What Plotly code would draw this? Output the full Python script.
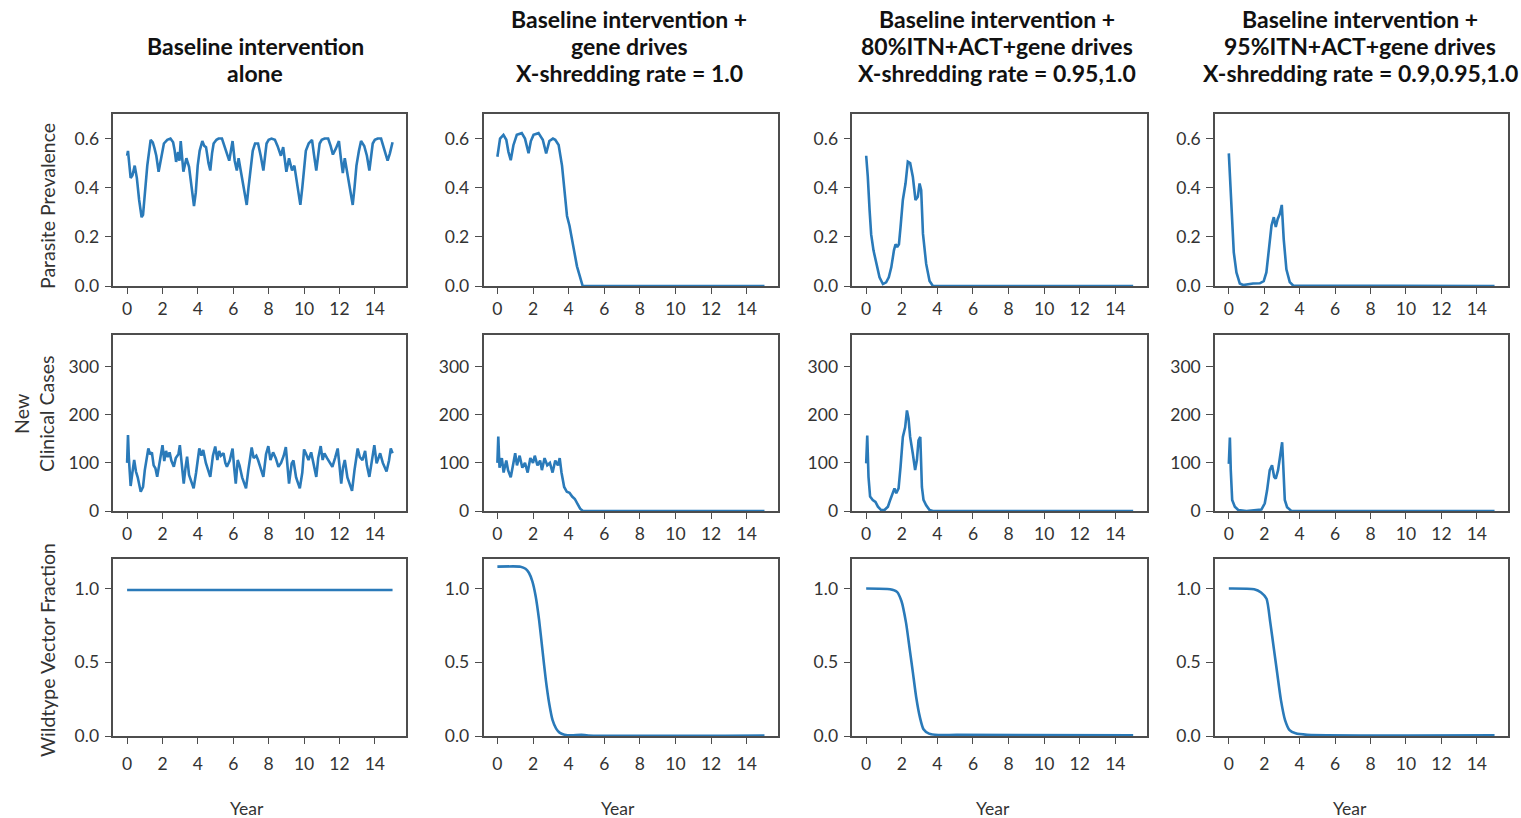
import plotly.graph_objects as go

# ---------------- data ----------------
col_titles = [
    ["Baseline intervention", "alone"],
    ["Baseline intervention +", "gene drives", "X-shredding rate = 1.0"],
    ["Baseline intervention +", "80%ITN+ACT+gene drives", "X-shredding rate = 0.95,1.0"],
    ["Baseline intervention +", "95%ITN+ACT+gene drives", "X-shredding rate = 0.9,0.95,1.0"],
]
row_titles = ["Parasite Prevalence", "New<br>Clinical Cases", "Wildtype Vector Fraction"]
x_title = "Year"
x_ticks = [0, 2, 4, 6, 8, 10, 12, 14]
y_ticks_prev = [0.0, 0.2, 0.4, 0.6]
y_ticks_cases = [0, 100, 200, 300]
y_ticks_wt = [0.0, 0.5, 1.0]

# Row 1: parasite prevalence
prev_x_c1 = [0, 0.05, 0.2, 0.3, 0.43, 0.55, 0.68, 0.82, 0.9, 1.0, 1.14, 1.33, 1.45, 1.55, 1.65, 1.78, 1.92,
             2.08, 2.27, 2.45, 2.6, 2.68, 2.77, 2.88, 2.96, 3.03, 3.18, 3.35, 3.5, 3.62, 3.78, 3.88, 3.99,
             4.1, 4.25, 4.36, 4.46, 4.6, 4.7, 4.8, 4.89, 5.05, 5.17, 5.36, 5.5, 5.64, 5.77, 5.96, 6.08,
             6.2, 6.3, 6.42, 6.6, 6.76, 6.86, 6.98, 7.1, 7.23, 7.4, 7.55, 7.7, 7.88, 8.0, 8.16, 8.35,
             8.5, 8.69, 8.82, 9.0, 9.15, 9.32, 9.45, 9.6, 9.79, 9.9, 10.0, 10.1, 10.26, 10.45, 10.55,
             10.69, 10.88, 11.0, 11.16, 11.36, 11.5, 11.63, 11.8, 11.97, 12.08, 12.19, 12.3, 12.42,
             12.6, 12.75, 12.85, 12.96, 13.1, 13.22, 13.4, 13.55, 13.69, 13.88, 14.0, 14.16, 14.35,
             14.55, 14.72, 14.85, 15.0]
prev_c1 = [0.53, 0.55, 0.44, 0.45, 0.49, 0.44, 0.35, 0.28, 0.29, 0.38, 0.49, 0.595, 0.585, 0.56, 0.53, 0.465, 0.52,
           0.58, 0.595, 0.60, 0.585, 0.555, 0.505, 0.545, 0.51, 0.59, 0.465, 0.52, 0.485, 0.42, 0.325, 0.38, 0.49,
           0.55, 0.59, 0.57, 0.565, 0.50, 0.47, 0.54, 0.58, 0.595, 0.60, 0.60, 0.57, 0.535, 0.51, 0.59, 0.51,
           0.47, 0.52, 0.47, 0.40, 0.33, 0.40, 0.49, 0.55, 0.58, 0.58, 0.53, 0.47, 0.58, 0.595, 0.60, 0.595,
           0.57, 0.53, 0.565, 0.465, 0.52, 0.47, 0.49, 0.41, 0.33, 0.40, 0.49, 0.55, 0.58, 0.595, 0.54,
           0.47, 0.58, 0.595, 0.60, 0.60, 0.57, 0.535, 0.56, 0.59, 0.52, 0.46, 0.52, 0.465,
           0.40, 0.33, 0.40, 0.49, 0.55, 0.59, 0.57, 0.53, 0.47, 0.58, 0.595, 0.60, 0.60,
           0.55, 0.51, 0.54, 0.585]

prev_x_c2 = [0, 0.15, 0.34, 0.5, 0.62, 0.75, 0.9, 1.09, 1.37, 1.55, 1.75, 1.88, 2.03, 2.31, 2.55, 2.74,
             2.92, 3.12, 3.25, 3.44, 3.63, 3.76, 3.91, 4.05, 4.19, 4.32, 4.47, 4.79, 15.0]
prev_c2 = [0.526, 0.60, 0.615, 0.595, 0.546, 0.512, 0.573, 0.615, 0.622, 0.60, 0.54, 0.59, 0.615, 0.622, 0.595, 0.54,
           0.59, 0.60, 0.595, 0.574, 0.49, 0.38, 0.285, 0.245, 0.19, 0.148, 0.08, 0.0, 0.0]

prev_x_c3 = [0, 0.09, 0.19, 0.28, 0.41, 0.56, 0.75, 0.94, 1.12, 1.27, 1.41, 1.56, 1.65, 1.74, 1.84, 1.93,
             2.06, 2.21, 2.34, 2.47, 2.62, 2.77, 2.9, 3.0, 3.09, 3.19, 3.37, 3.56, 3.75, 15.0]
prev_c3 = [0.53, 0.445, 0.31, 0.21, 0.145, 0.09, 0.035, 0.008, 0.015, 0.035, 0.076, 0.145, 0.17, 0.158, 0.17, 0.24,
           0.35, 0.417, 0.506, 0.50, 0.445, 0.35, 0.363, 0.417, 0.39, 0.213, 0.09, 0.02, 0.0, 0.0]

prev_x_c4 = [0, 0.09, 0.19, 0.28, 0.43, 0.62, 0.81, 1.37, 1.75, 1.97, 2.12, 2.27, 2.41, 2.54, 2.65, 2.76,
             2.88, 2.99, 3.1, 3.25, 3.44, 3.63, 15.0]
prev_c4 = [0.54, 0.42, 0.246, 0.137, 0.055, 0.01, 0.004, 0.01, 0.011, 0.02, 0.055, 0.15, 0.246, 0.28, 0.24, 0.273,
           0.294, 0.33, 0.19, 0.068, 0.016, 0.002, 0.0]

# Row 2: new clinical cases
cases_x_c1 = [0.0, 0.05, 0.1, 0.2, 0.3, 0.4, 0.5, 0.6, 0.77, 0.9, 1.0, 1.1, 1.2, 1.3, 1.4, 1.5, 1.6, 1.7, 1.8,
              1.95, 2.0, 2.1, 2.2, 2.3, 2.4, 2.5, 2.64, 2.75, 2.9, 2.98, 3.05, 3.2, 3.3, 3.39, 3.5, 3.6, 3.76,
              3.9, 4.08, 4.2, 4.3, 4.45, 4.55, 4.7, 4.85, 4.98, 5.1, 5.2, 5.3, 5.45, 5.55, 5.64, 5.8, 5.96,
              6.05, 6.14, 6.25, 6.35, 6.5, 6.72, 6.85, 7.04, 7.15, 7.3, 7.4, 7.55, 7.7, 7.85, 7.98, 8.1,
              8.25, 8.4, 8.55, 8.7, 8.85, 8.97, 9.05, 9.15, 9.3, 9.4, 9.55, 9.76, 9.9, 10.0, 10.1, 10.25,
              10.4, 10.55, 10.69, 10.8, 10.94, 11.05, 11.15, 11.3, 11.45, 11.6, 11.75, 11.9, 12.0, 12.1,
              12.2, 12.3, 12.45, 12.71, 12.85, 13.03, 13.15, 13.3, 13.45, 13.55, 13.69, 13.85, 13.97,
              14.1, 14.2, 14.3, 14.45, 14.66, 14.8, 14.9, 15.0]
cases_c1 = [100, 158, 110, 52, 80, 106, 82, 70, 40, 50, 85, 106, 130, 118, 122, 95, 89, 71, 95,
            122, 137, 104, 125, 112, 122, 105, 92, 110, 118, 137, 106, 57, 90, 113, 75, 64, 47,
            80, 130, 115, 127, 100, 90, 71, 115, 134, 106, 125, 115, 120, 100, 92, 105, 130,
            90, 57, 106, 95, 70, 47, 85, 132, 110, 115, 106, 90, 71, 118, 135, 106,
            122, 110, 92, 100, 115, 133, 90, 57, 99, 105, 70, 47, 80, 128, 120, 106,
            122, 95, 71, 110, 135, 106, 120, 110, 100, 92, 110, 130, 95, 57,
            90, 106, 70, 42, 85, 130, 112, 106, 125, 95, 71, 115, 137,
            99, 110, 120, 100, 82, 105, 130, 120]

cases_x_c2 = [0, 0.05, 0.12, 0.25, 0.35, 0.5, 0.6, 0.75, 0.9, 1.0, 1.1, 1.25, 1.4, 1.55, 1.7, 1.85, 2.0, 2.1,
              2.25, 2.4, 2.5, 2.65, 2.8, 2.95, 3.1, 3.25, 3.4, 3.5, 3.6, 3.75, 3.9, 4.05, 4.2, 4.35, 4.5,
              4.65, 4.8, 15.0]
cases_c2 = [100, 155, 90, 110, 80, 105, 85, 70, 100, 120, 95, 115, 90, 100, 80, 110, 100, 115,
            95, 105, 85, 110, 95, 100, 80, 105, 95, 110, 80, 50, 40, 38, 30, 25, 15,
            5, 0, 0]

cases_x_c3 = [0, 0.06, 0.13, 0.22, 0.37, 0.52, 0.66, 0.84, 1.03, 1.22, 1.35, 1.5, 1.59, 1.69, 1.82, 1.93,
              2.06, 2.19, 2.29, 2.38, 2.47, 2.62, 2.75, 2.85, 2.94, 3.04, 3.13, 3.22, 3.37, 3.56, 3.75, 15.0]
cases_c3 = [99, 157, 71, 30, 23, 19, 9, 2, 2, 9, 23, 40, 47, 37, 47, 92,
            154, 174, 209, 192, 154, 119, 85, 106, 147, 154, 50, 23, 12, 2, 0, 0]

cases_x_c4 = [0, 0.06, 0.11, 0.19, 0.34, 0.53, 1.0, 1.56, 1.84, 2.03, 2.16, 2.31, 2.44, 2.56, 2.65, 2.78,
              2.91, 3.01, 3.06, 3.16, 3.29, 3.53, 15.0]
cases_c4 = [98, 153, 85, 23, 9, 2, 0, 2, 3, 16, 43, 85, 95, 71, 67, 85,
            119, 143, 105, 23, 8, 0, 0]

# Row 3: wildtype vector fraction
wt_x_c1 = [0, 15.0]
wt_c1 = [0.99, 0.99]

wt_x_c2 = [0, 1.3, 1.58, 1.77, 1.96, 2.15, 2.34, 2.53, 2.72, 2.91, 3.1, 3.3, 3.49, 3.77, 4.15, 4.72, 5.1, 15.0]
wt_c2 = [1.148, 1.148, 1.134, 1.107, 1.05, 0.948, 0.789, 0.584, 0.38, 0.22, 0.107, 0.05, 0.023, 0.009, 0.004,
         0.008, 0.003, 0.003]

wt_x_c3 = [0, 1.34, 1.73, 1.98, 2.24, 2.45, 2.63, 2.81, 3.02, 3.22, 3.53, 4.05, 5.08, 15.0]
wt_c3 = [1.0, 0.995, 0.977, 0.915, 0.767, 0.584, 0.425, 0.263, 0.126, 0.046, 0.016, 0.007, 0.008, 0.004]

wt_x_c4 = [0, 1.43, 1.82, 2.13, 2.34, 2.55, 2.73, 2.94, 3.17, 3.43, 3.77, 4.42, 15.0]
wt_c4 = [1.0, 0.995, 0.973, 0.93, 0.77, 0.586, 0.427, 0.245, 0.11, 0.04, 0.018, 0.008, 0.004]

rows_data = [
    [(prev_x_c1, prev_c1), (prev_x_c2, prev_c2), (prev_x_c3, prev_c3), (prev_x_c4, prev_c4)],
    [(cases_x_c1, cases_c1), (cases_x_c2, cases_c2), (cases_x_c3, cases_c3), (cases_x_c4, cases_c4)],
    [(wt_x_c1, wt_c1), (wt_x_c2, wt_c2), (wt_x_c3, wt_c3), (wt_x_c4, wt_c4)],
]
row_yticks = [y_ticks_prev, y_ticks_cases, y_ticks_wt]

# ---------------- layout / styling ----------------
W = 1521
REF_H = 818          # reference picture height (positions below are in its pixels)
H = 828              # figure height (rendered slightly compressed vertically)
col_px = [(113.3, 406.0), (483.5, 778.0), (852.3, 1146.7), (1215.0, 1508.0)]
row_px = [(114.0, 286.0), (335.0, 511.0), (559.0, 736.0)]
row_standoff = [0, 0, 5]
y_ranges = [[0, 0.7], [0, 366], [0, 1.2]]
y_fmt = [".1f", "d", ".1f"]
x_range = [-0.78, 15.76]


def fx(px):
    return px / W


def fy(py):
    return 1 - py / REF_H


LINE = "#2a7ab9"
AX = "#4d4d4d"
TXT = "#333333"
FONT = "Lato"
TICK_SIZE = 17.5

fig = go.Figure()
layout = dict(
    width=W, height=H, autosize=False,
    margin=dict(l=0, r=0, t=0, b=0),
    paper_bgcolor="white", plot_bgcolor="white",
    showlegend=False,
    font=dict(family=FONT, color=TXT, size=17),
)

idx = 0
for r in range(3):
    for c in range(4):
        idx += 1
        xs, ys = rows_data[r][c]
        xa = "x" if idx == 1 else f"x{idx}"
        ya = "y" if idx == 1 else f"y{idx}"
        fig.add_trace(go.Scatter(
            x=xs, y=ys, mode="lines", xaxis=xa, yaxis=ya,
            line=dict(color=LINE, width=2.6, shape="spline" if r == 2 else "linear", smoothing=0.6),
            hoverinfo="x+y",
        ))
        x0, x1 = col_px[c]
        y0, y1 = row_px[r]
        kx = "xaxis" if idx == 1 else f"xaxis{idx}"
        ky = "yaxis" if idx == 1 else f"yaxis{idx}"
        layout[kx] = dict(
            domain=[fx(x0), fx(x1)], anchor=ya, range=x_range,
            tickmode="array", tickvals=x_ticks, ticks="outside", ticklen=6,
            tickcolor=AX, tickwidth=1.3, ticklabelstandoff=row_standoff[r],
            showline=True, linecolor=AX, linewidth=1.5, mirror=True,
            showgrid=False, zeroline=False,
            tickfont=dict(family=FONT, size=TICK_SIZE, color=TXT),
        )
        layout[ky] = dict(
            domain=[fy(y1), fy(y0)], anchor=xa, range=y_ranges[r],
            tickmode="array", tickvals=row_yticks[r], tickformat=y_fmt[r],
            ticks="outside", ticklen=7, tickcolor=AX, tickwidth=1.3, ticklabelstandoff=2,
            showline=True, linecolor=AX, linewidth=1.5, mirror=True,
            showgrid=False, zeroline=False,
            tickfont=dict(family=FONT, size=TICK_SIZE, color=TXT),
        )

annotations = []
title_cx = [255, 629, 997, 1360]
title_line_y = [19, 46, 73]
year_cx = [247, 618, 993, 1350]
for c in range(4):
    lines = col_titles[c]
    ys = title_line_y[-len(lines):]
    for line_text, ly in zip(lines, ys):
        annotations.append(dict(
            text=f"<b>{line_text}</b>", xref="paper", yref="paper",
            x=fx(title_cx[c]), y=fy(ly), xanchor="center", yanchor="middle",
            showarrow=False, align="center",
            font=dict(family=FONT, size=23, color="#111111"),
        ))
    annotations.append(dict(
        text=x_title, xref="paper", yref="paper",
        x=fx(year_cx[c]), y=fy(808), xanchor="center", yanchor="middle",
        showarrow=False, font=dict(family=FONT, size=17.5, color=TXT),
    ))
row_label_x = [47, 34, 47]
row_label_y = [206, 414, 650]
for r in range(3):
    annotations.append(dict(
        text=row_titles[r], xref="paper", yref="paper",
        x=fx(row_label_x[r]), y=fy(row_label_y[r]), xanchor="center", yanchor="middle",
        textangle=-90, showarrow=False, align="center",
        font=dict(family=FONT, size=19.5, color=TXT),
    ))
layout["annotations"] = annotations

fig.update_layout(**layout)
fig.write_html("out.html", config={"displayModeBar": False},
               post_script="document.body.style.margin='0px';")
